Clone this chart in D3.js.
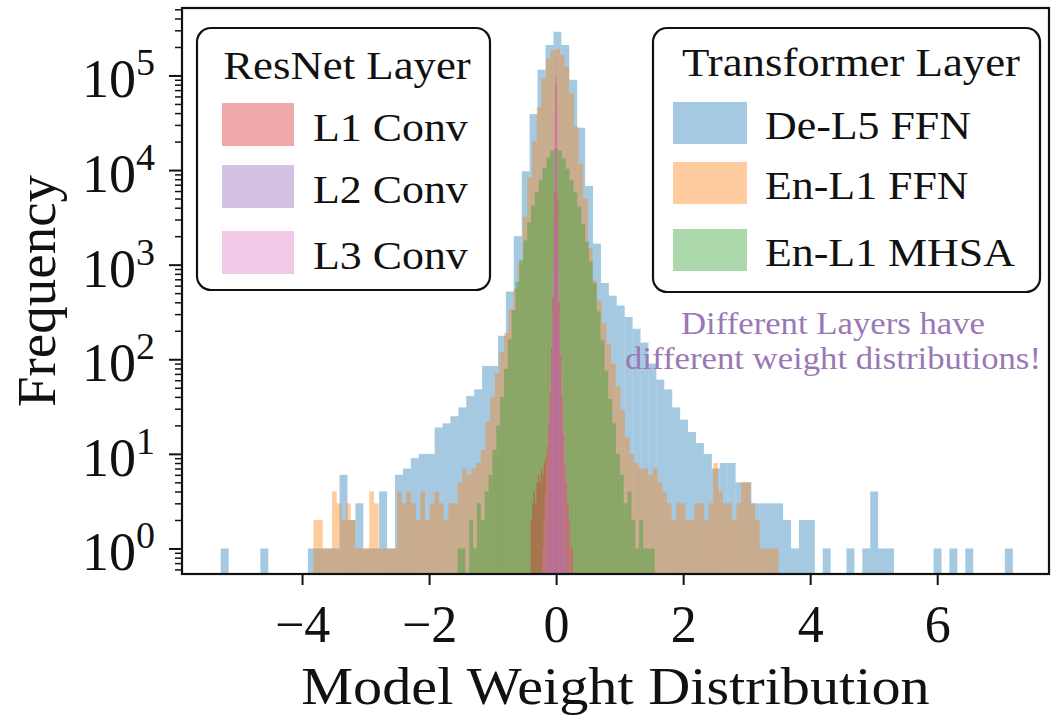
<!DOCTYPE html>
<html>
<head>
<meta charset="utf-8">
<script src="https://cdn.jsdelivr.net/npm/d3@7"></script>
<style>
  html, body { margin: 0; padding: 0; background: #fff; }
  svg { display: block; }
</style>
</head>
<body>
<svg id="chart" width="1051" height="718"></svg>
<script>
// ---- histogram data: counts per bin, bins start at binStart and are binWidth wide ----
const seriesNames = ["De-L5 FFN", "En-L1 FFN", "En-L1 MHSA", "L1 Conv", "L2 Conv", "L3 Conv"];
const seriesBinStart = [-5.28, -3.82, -1.5504, -0.4025, -0.1425, -0.2185];
const seriesBinWidth = [0.1247, 0.0732, 0.0608, 0.023, 0.019, 0.019];

const deL5FfnCounts = [
  1, 0, 0, 0, 0, 1, 0, 0, 0, 0,
  0, 1, 1, 1, 1, 6, 2, 3, 1, 1,
  4, 1, 6, 7, 9, 10, 10, 19, 21, 25,
  31, 41, 48, 85, 85, 177, 520, 2000, 9700, 39000,
  115000, 210000, 290000, 210000, 90000, 28000, 6800, 1670, 640, 470,
  370, 280, 210, 150, 90, 61, 48, 31, 23, 17,
  13, 10, 7, 8, 8, 5, 5, 3, 3, 3,
  3, 2, 1, 2, 2, 0, 1, 0, 0, 1,
  0, 1, 4, 1, 1, 0, 0, 0, 0, 0,
  1, 0, 1, 0, 1, 0, 0, 0, 0, 1
];
const enL1FfnCounts = [
  2, 2, 1, 1, 4, 3, 2, 3, 2, 1,
  1, 1, 4, 3, 1, 1, 1, 1, 4, 3,
  4, 3, 2, 4, 2, 3, 4, 3, 2, 3,
  3, 5, 7, 6, 7, 8, 11, 22, 40, 71,
  120, 190, 340, 560, 1050, 3200, 8300, 20000, 46000, 93000,
  150000, 186000, 190000, 165000, 123000, 65000, 29000, 11700, 5000, 1500,
  680, 420, 240, 145, 90, 52, 29, 15, 10, 8,
  7, 7, 6, 7, 5, 4, 3, 2, 3, 3,
  2, 2, 3, 3, 2, 3, 8, 4, 3, 3,
  2, 3, 5, 5, 3, 2, 1, 1, 1, 1
];
const enL1MhsaCounts = [
  1, 1, 0, 2, 1, 3, 2, 4, 6, 11,
  20, 40, 79, 162, 330, 660, 1120, 1800, 2800, 4200,
  5900, 7900, 10500, 13500, 16200, 17000, 16000, 13300, 10300, 7800,
  5800, 4100, 2700, 1750, 1080, 640, 320, 158, 76, 38,
  21, 10, 6, 3, 4, 2, 1, 2, 1, 1, 1
];
const l1ConvCounts = [
  2, 3, 4, 3, 5, 6, 5, 7, 6, 8,
  9, 12, 20, 45, 130, 450, 6000, 80000, 5000, 400,
  110, 40, 16, 8, 5, 3, 2, 1, 1, 0
];
const l2ConvCounts = [1, 3, 8, 25, 70, 250, 3000, 100000, 2500, 220, 65, 22, 7, 3, 1];
const l3ConvCounts = [
  1, 2, 4, 8, 15, 30, 58, 120, 300, 900,
  40000, 150000, 45000, 1000, 320, 130, 62, 33, 17, 9,
  5, 3, 2, 1, 1
];
const seriesCounts = [deL5FfnCounts, enL1FfnCounts, enL1MhsaCounts, l1ConvCounts, l2ConvCounts, l3ConvCounts];

const xTickValues = [-4, -2, 0, 2, 4, 6];
const yMajorExponents = [0, 1, 2, 3, 4, 5];
const resnetLegend = ["L1 Conv", "L2 Conv", "L3 Conv"];
const transformerLegend = ["De-L5 FFN", "En-L1 FFN", "En-L1 MHSA"];
const noteLines = ["Different Layers have", "different weight distributions!"];

// ---- styling ----
const colors = {
  "De-L5 FFN": "#1f77b4", "En-L1 FFN": "#ff7f0e", "En-L1 MHSA": "#2ca02c",
  "L1 Conv": "#d62728", "L2 Conv": "#9467bd", "L3 Conv": "#e377c2"
};
const barAlpha = 0.4;
const serif = "'Liberation Serif', 'Times New Roman', serif";

const plotLeft = 182, plotRight = 1049, plotTop = 8, plotBottom = 574;

const svg = d3.select("#chart");

const x = d3.scaleLinear().domain([-5.89, 7.76]).range([plotLeft, plotRight]);
const y = d3.scaleLog().domain([Math.pow(10, -0.27), Math.pow(10, 5.713)]).range([plotBottom, plotTop]);

// widen text horizontally by a factor of its natural width
function stretch(sel, factor) {
  sel.each(function () {
    const w = this.getComputedTextLength();
    d3.select(this).attr("textLength", w * factor).attr("lengthAdjust", "spacingAndGlyphs");
  });
  return sel;
}

svg.append("defs").append("clipPath").attr("id", "plotClip")
  .append("rect")
  .attr("x", plotLeft).attr("y", plotTop)
  .attr("width", plotRight - plotLeft).attr("height", plotBottom - plotTop);

// ---- histogram bars ----
const barsG = svg.append("g").attr("clip-path", "url(#plotClip)");
seriesNames.forEach((name, s) => {
  const start = seriesBinStart[s], w = seriesBinWidth[s];
  const bins = seriesCounts[s]
    .map((c, i) => ({ x0: start + i * w, x1: start + (i + 1) * w, c }))
    .filter(d => d.c > 0);
  barsG.append("g")
    .attr("fill", colors[name])
    .attr("fill-opacity", barAlpha)
    .selectAll("rect")
    .data(bins)
    .join("rect")
    .attr("x", d => x(d.x0))
    .attr("width", d => x(d.x1) - x(d.x0))
    .attr("y", d => y(d.c))
    .attr("height", d => plotBottom - y(d.c));
});

// ---- axes ----
const xAxis = svg.append("g")
  .attr("transform", `translate(0,${plotBottom})`)
  .call(d3.axisBottom(x).tickValues(xTickValues).tickSize(11).tickPadding(6)
    .tickFormat(d => d < 0 ? "\u2212" + (-d) : String(d)));
xAxis.select(".domain").remove();
xAxis.selectAll(".tick line").attr("stroke", "#111").attr("stroke-width", 2);
xAxis.selectAll(".tick text")
  .attr("font-family", serif).attr("font-size", 52).attr("fill", "#111")
  .attr("dy", null).attr("y", 68);

const yMajor = yMajorExponents.map(e => Math.pow(10, e));
const yMinor = [];
for (let e = -1; e <= 5; e++) {
  for (let m = 2; m <= 9; m++) {
    const v = m * Math.pow(10, e);
    if (v >= y.domain()[0] && v <= y.domain()[1]) yMinor.push(v);
  }
}
const yMinorAxis = svg.append("g")
  .attr("transform", `translate(${plotLeft},0)`)
  .call(d3.axisLeft(y).tickValues(yMinor).tickSize(7).tickFormat(""));
yMinorAxis.select(".domain").remove();
yMinorAxis.selectAll(".tick line").attr("stroke", "#111").attr("stroke-width", 1.5);

const yMajorAxis = svg.append("g")
  .attr("transform", `translate(${plotLeft},0)`)
  .call(d3.axisLeft(y).tickValues(yMajor).tickSize(13).tickFormat(""));
yMajorAxis.select(".domain").remove();
yMajorAxis.selectAll(".tick line").attr("stroke", "#111").attr("stroke-width", 2);

const yLabels = svg.append("g")
  .attr("font-family", serif).attr("fill", "#111").attr("text-anchor", "end");
yMajorExponents.forEach(e => {
  const ty = y(Math.pow(10, e));
  const t = yLabels.append("text").attr("x", 155).attr("y", ty + 22);
  t.append("tspan").attr("font-size", 54).text("10");
  t.append("tspan").attr("font-size", 38).attr("dy", -22).text(String(e));
});

// frame
svg.append("rect")
  .attr("x", plotLeft).attr("y", plotTop)
  .attr("width", plotRight - plotLeft).attr("height", plotBottom - plotTop)
  .attr("fill", "none").attr("stroke", "#111").attr("stroke-width", 2.2);

// axis titles
stretch(svg.append("text")
  .attr("x", (plotLeft + plotRight) / 2).attr("y", 704)
  .attr("text-anchor", "middle")
  .attr("font-family", serif).attr("font-size", 52).attr("fill", "#111")
  .text("Model Weight Distribution"), 1.12);

svg.append("text")
  .attr("transform", `translate(55,${(plotTop + plotBottom) / 2}) rotate(-90)`)
  .attr("text-anchor", "middle")
  .attr("font-family", serif).attr("font-size", 55).attr("fill", "#111")
  .text("Frequency");

// ---- legends ----
function drawLegend(box, title, names) {
  const g = svg.append("g");
  g.append("rect")
    .attr("x", box.x).attr("y", box.y).attr("width", box.w).attr("height", box.h)
    .attr("rx", 14).attr("ry", 14)
    .attr("fill", "#fff").attr("stroke", "#111").attr("stroke-width", 2.2);
  stretch(g.append("text")
    .attr("x", box.titleX).attr("y", box.titleY)
    .attr("text-anchor", "middle")
    .attr("font-family", serif).attr("font-size", 40).attr("fill", "#111")
    .text(title), 1.12);
  names.forEach((n, i) => {
    g.append("rect")
      .attr("x", box.patchX).attr("y", box.rowTop[i])
      .attr("width", box.patchW).attr("height", box.patchH)
      .attr("fill", colors[n]).attr("fill-opacity", barAlpha);
    stretch(g.append("text")
      .attr("x", box.labelX).attr("y", box.rowTop[i] + box.baseOff)
      .attr("font-family", serif).attr("font-size", 41).attr("fill", "#111")
      .text(n), 1.07);
  });
}

drawLegend({
  x: 197, y: 28, w: 293, h: 262, titleX: 347, titleY: 79,
  patchX: 222, patchW: 72, patchH: 43, rowTop: [103, 165, 231], labelX: 313, baseOff: 38
}, "ResNet Layer", resnetLegend);

drawLegend({
  x: 653, y: 28, w: 387, h: 264, titleX: 851, titleY: 76,
  patchX: 673, patchW: 74, patchH: 42, rowTop: [102, 162, 229], labelX: 765, baseOff: 37
}, "Transformer Layer", transformerLegend);

// ---- note ----
const note = svg.append("g")
  .attr("font-family", serif).attr("font-size", 31).attr("fill", "#9a78b5")
  .attr("text-anchor", "middle");
noteLines.forEach((line, i) => {
  stretch(note.append("text").attr("x", 833).attr("y", 334 + i * 35).text(line), 1.12);
});
</script>
</body>
</html>
